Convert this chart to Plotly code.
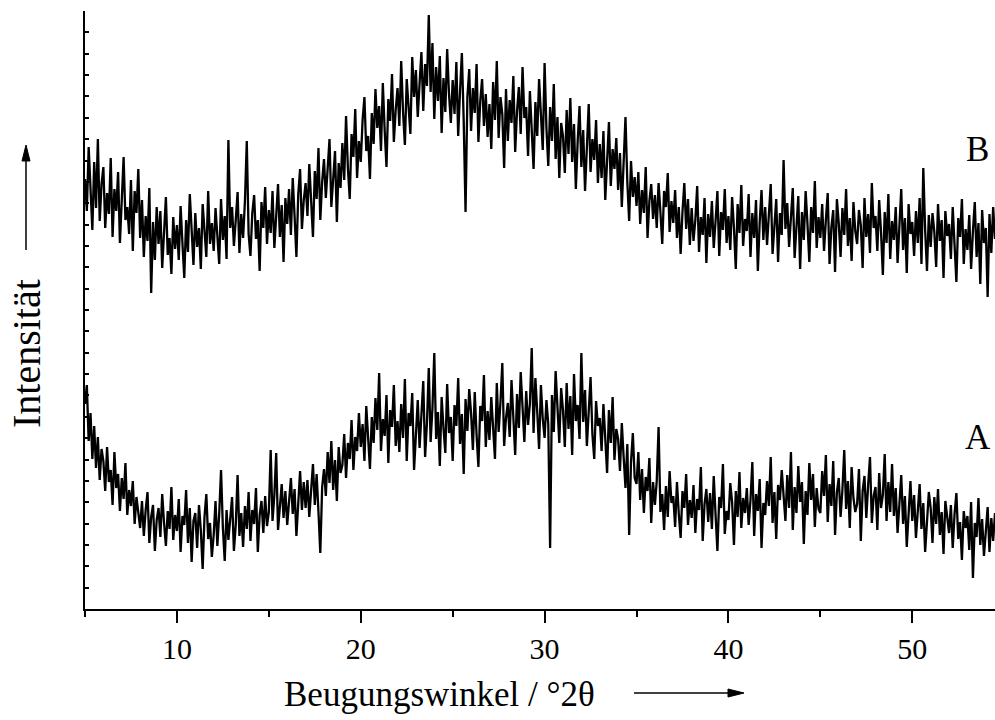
import numpy as np
import plotly.graph_objects as go

# Diffraction angle grid (°2θ): 5.0 ... 54.5 in 0.1° steps
two_theta_start = 5.0
two_theta_step = 0.1

# Intensity (arb. units, stacked) of pattern B, one row per degree
intensity_b = [
    430, 398, 462, 415, 379, 447, 401, 470, 388, 425,
    442, 381, 416, 395, 451, 372, 420, 398, 437, 366,
    411, 452, 389, 402, 375, 429, 358, 418, 396, 440,
    371, 409, 352, 393, 368, 421, 316, 387, 349, 402,
    365, 398, 341, 380, 412, 354, 371, 335, 392, 360,
    384, 349, 403, 366, 331, 389, 357, 415, 372, 344,
    396, 362, 381, 340, 405, 373, 352, 418, 365, 386,
    358, 401, 377, 345, 410, 369, 393, 350, 469, 381,
    402, 363, 389, 417, 356, 395, 371, 408, 468, 375,
    353, 396, 414, 370, 389, 338, 407, 381, 422, 365,
    399, 376, 418, 361, 393, 425, 372, 404, 347, 411,
    385, 420, 374, 431, 393, 352, 415, 440, 380, 409,
    426, 393, 445, 405, 372, 438, 410, 461, 389, 427,
    450, 411, 439, 470, 402, 433, 458, 387, 446, 421,
    466, 429, 493, 441, 410, 475, 452, 500, 431, 468,
    447, 489, 512, 458, 473, 430, 496, 465, 520, 481,
    503, 458, 526, 479, 442, 510, 488, 535, 467, 499,
    521, 483, 548, 497, 464, 530, 505, 475, 552, 512,
    539, 492, 526, 557, 498, 545, 523, 594, 517, 566,
    490, 542, 508, 553, 476, 531, 497, 560, 515, 486,
    529, 495, 547, 473, 518, 556, 488, 397, 512, 540,
    478, 521, 496, 545, 467, 508, 530, 483, 515, 472,
    505, 460, 527, 489, 548, 471, 512, 495, 441, 520,
    468, 509, 486, 533, 457, 498, 522, 475, 542, 491,
    502, 453, 518, 479, 440, 507, 473, 530, 488, 459,
    546, 481, 443, 502, 468, 525, 450, 492, 431, 486,
    473, 436, 499, 455, 511, 447, 485, 420, 468, 503,
    442, 479, 418, 462, 505, 437, 470, 449, 489, 426,
    465, 431, 478, 409, 452, 487, 423, 460, 440, 471,
    419, 456, 402, 441, 492, 427, 388, 448, 412, 432,
    403, 437, 385, 419, 396, 442, 371, 408, 425, 390,
    414, 381, 426, 397, 365, 418, 402, 436, 377, 408,
    386, 419, 371, 402, 355, 397, 426, 380, 410, 364,
    401, 368, 389, 423, 357, 392, 374, 411, 346, 395,
    372, 408, 361, 388, 418, 353, 397, 379, 420, 366,
    393, 359, 412, 381, 340, 405, 376, 424, 363, 390,
    378, 415, 352, 396, 371, 409, 338, 387, 419, 369,
    402, 364, 391, 425, 355, 383, 410, 347, 396, 374,
    449, 380, 406, 362, 394, 421, 351, 388, 413, 340,
    397, 369, 418, 385, 347, 402, 376, 428, 361, 392,
    371, 405, 358, 389, 416, 345, 382, 399, 337, 410,
    386, 352, 401, 374, 420, 363, 391, 348, 407, 378,
    365, 399, 384, 341, 411, 372, 395, 356, 426, 381,
    393, 358, 409, 377, 334, 397, 366, 415, 350, 388,
    369, 402, 346, 383, 420, 359, 391, 336, 405, 375,
    387, 353, 398, 366, 411, 345, 441, 379, 338, 394,
    362, 396, 377, 342, 405, 368, 389, 331, 398, 373,
    385, 350, 402, 364, 327, 391, 372, 410, 345, 380,
    359, 394, 340, 378, 407, 352, 386, 325, 399, 366,
    381, 312, 395, 356, 402, 370,
]

# Intensity (arb. units) of pattern A, one row per degree
intensity_a = [
    205, 224, 168, 196, 150, 183, 141, 172, 129, 160,
    148, 118, 162, 127, 139, 104, 157, 121, 135, 98,
    131, 110, 146, 94, 119, 103, 128, 85, 112, 97,
    81, 108, 73, 99, 117, 66, 92, 104, 58, 89,
    101, 72, 115, 86, 63, 98, 80, 122, 69, 94,
    78, 110, 57, 93, 84, 119, 66, 101, 47, 88,
    96, 61, 104, 79, 40, 92, 115, 70, 86, 52,
    74, 108, 63, 95, 139, 81, 48, 99, 69, 90,
    112, 58, 84, 134, 73, 96, 62, 103, 80, 117,
    68, 99, 85, 121, 57, 94, 108, 76, 113, 83,
    97, 159, 88, 114, 156, 79, 106, 125, 91, 118,
    84, 112, 131, 95, 120, 73, 109, 138, 99, 127,
    101, 129, 92, 118, 145, 104, 135, 97, 56, 122,
    140, 113, 157, 126, 168, 119, 149, 108, 162, 136,
    144, 175, 131, 166, 150, 189, 139, 172, 158, 196,
    162, 185, 148, 203, 171, 140, 192, 166, 211, 179,
    236, 158, 190, 173, 214, 146, 199, 182, 224, 163,
    188, 157, 205, 171, 230, 148, 196, 183, 216, 139,
    174, 209, 161, 193, 228, 152, 186, 241, 167, 201,
    256, 170, 197, 143, 212, 181, 156, 225, 176, 192,
    148, 204, 183, 231, 165, 195, 135, 210, 178, 220,
    196, 159, 217, 174, 142, 203, 188, 234, 162, 198,
    169, 212, 185, 150, 226, 177, 207, 246, 163, 191,
    206, 172, 229, 188, 154, 215, 181, 237, 195, 167,
    218, 184, 205, 261, 176, 231, 197, 160, 224, 190,
    171, 209, 185, 61, 214, 177, 238, 193, 166, 221,
    199, 162, 226, 180, 213, 154, 235, 188, 204, 170,
    256, 187, 219, 163, 197, 232, 175, 150, 208, 183,
    191, 158, 205, 174, 136, 199, 166, 212, 149, 180,
    170, 138, 186, 152, 121, 165, 74, 147, 176, 131,
    125, 157, 109, 140, 96, 132, 118, 151, 86, 127,
    104, 128, 182, 97, 115, 79, 123, 92, 138, 106,
    113, 82, 127, 95, 71, 118, 101, 135, 84, 109,
    91, 124, 76, 110, 99, 142, 68, 105, 120, 87,
    116, 80, 133, 94, 58, 112, 101, 145, 75, 98,
    89, 126, 107, 64, 118, 92, 137, 81, 111, 96,
    121, 84, 109, 147, 73, 115, 98, 130, 61, 106,
    94, 128, 103, 152, 86, 117, 70, 124, 109, 139,
    115, 88, 134, 101, 157, 79, 122, 96, 143, 107,
    127, 65, 118, 94, 146, 109, 135, 82, 121, 100,
    96, 138, 113, 154, 87, 125, 103, 148, 74, 117,
    131, 92, 119, 159, 100, 128, 81, 142, 111, 97,
    105, 140, 68, 118, 133, 91, 124, 152, 86, 113,
    122, 79, 136, 101, 114, 155, 88, 127, 97, 145,
    93, 121, 76, 109, 134, 85, 113, 62, 102, 128,
    88, 114, 71, 99, 125, 80, 106, 57, 94, 117,
    101, 66, 112, 85, 120, 74, 97, 55, 108, 89,
    76, 104, 61, 95, 116, 70, 87, 49, 98, 81,
    93, 59, 107, 31, 86, 72, 111, 64, 90, 53,
    78, 102, 57, 91, 68, 96,
]

x_tick_values = [10, 20, 30, 40, 50]
x_tick_labels = ["10", "20", "30", "40", "50"]
curve_labels = ["A", "B"]

X_RANGE = [5.0, 54.5]
Y_RANGE = [0, 598]

n_a = len(intensity_a)
n_b = len(intensity_b)
theta_a = np.round(two_theta_start + two_theta_step * np.arange(n_a), 2)
theta_b = np.round(two_theta_start + two_theta_step * np.arange(n_b), 2)

FONT = "Liberation Serif, Times New Roman, serif"
W, H = 995, 720
L, R, T, B = 85, 0, 11, 111
PW, PH = W - L - R, H - T - B


def px(xp):
    return (xp - L) / PW


def py(yp):
    return (H - B - yp) / PH


fig = go.Figure()
line_style = dict(color="black", width=2.3)
fig.add_trace(go.Scatter(x=theta_a, y=intensity_a, mode="lines",
                         line=line_style, name="A", showlegend=False))
fig.add_trace(go.Scatter(x=theta_b, y=intensity_b, mode="lines",
                         line=line_style, name="B", showlegend=False))

fig.update_layout(
    width=W, height=H,
    margin=dict(l=L, r=R, t=T, b=B, autoexpand=False),
    paper_bgcolor="white", plot_bgcolor="white",
    font=dict(family=FONT, color="black"),
    showlegend=False,
)

fig.update_xaxes(
    range=X_RANGE, showgrid=False, zeroline=False,
    showline=True, linecolor="black", linewidth=2,
    tickmode="array", tickvals=x_tick_values, ticktext=x_tick_labels,
    ticks="outside", ticklen=12, tickwidth=2, tickcolor="black",
    tickfont=dict(family=FONT, size=30, color="black"),
    minor=dict(tickmode="array", tickvals=[5, 15, 25, 35, 45],
               ticks="outside", ticklen=6, tickwidth=2, tickcolor="black"),
)

fig.update_yaxes(
    range=Y_RANGE, showgrid=False, zeroline=False,
    showline=True, linecolor="black", linewidth=2,
    tickmode="array", tickvals=list(np.linspace(Y_RANGE[0], Y_RANGE[1], 29)),
    showticklabels=False,
    ticks="inside", ticklen=4, tickwidth=1.5, tickcolor="black",
)

annotations = [
    # curve labels
    dict(x=px(977), y=py(150), text=curve_labels[1]),
    dict(x=px(978), y=py(437), text=curve_labels[0]),
    # axis titles
    dict(x=px(439), y=py(694), text="Beugungswinkel / °2θ"),
    dict(x=px(27), y=py(354), text="Intensität", textangle=-90,
         font=dict(family=FONT, size=40, color="black")),
]
for a in annotations:
    a.setdefault("font", dict(family=FONT, size=35, color="black"))
    fig.add_annotation(xref="paper", yref="paper", showarrow=False,
                       xanchor="center", yanchor="middle", **a)


def add_arrow(x0, y0, x1, y1, head_len=16, head_half=4):
    """Direction arrow from (x0, y0) to tip (x1, y1), given in pixels."""
    dx, dy = x1 - x0, y1 - y0
    n = (dx * dx + dy * dy) ** 0.5
    ux, uy = dx / n, dy / n
    bx, by = x1 - ux * head_len, y1 - uy * head_len
    fig.add_shape(type="line", xref="paper", yref="paper",
                  x0=px(x0), y0=py(y0), x1=px(bx), y1=py(by),
                  line=dict(color="black", width=1.5))
    p1 = (bx - uy * head_half, by + ux * head_half)
    p2 = (bx + uy * head_half, by - ux * head_half)
    path = (f"M {px(x1)},{py(y1)} L {px(p1[0])},{py(p1[1])} "
            f"L {px(p2[0])},{py(p2[1])} Z")
    fig.add_shape(type="path", xref="paper", yref="paper", path=path,
                  fillcolor="black", line=dict(color="black", width=1))


# direction arrows next to the axis titles
add_arrow(634, 693, 744, 693)
add_arrow(26, 250, 26, 145)

fig.write_html("out.html")
